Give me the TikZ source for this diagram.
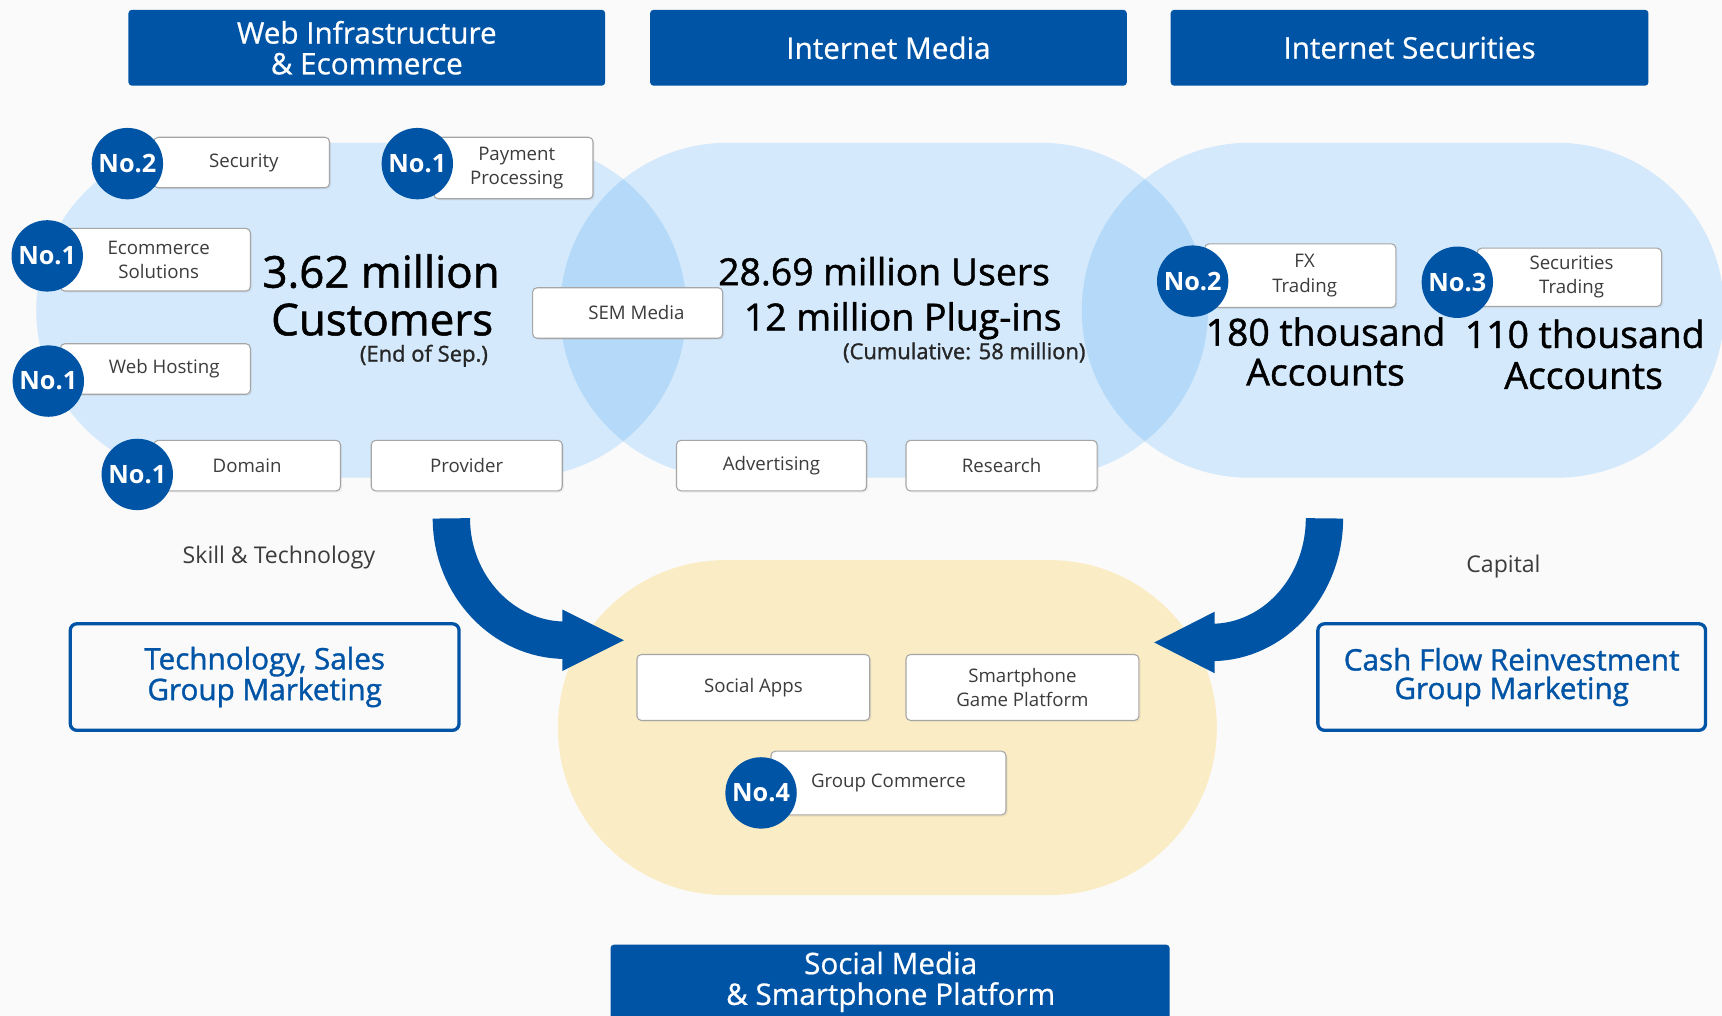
\documentclass[tikz,border=0pt]{standalone}
\usepackage{fontspec}
\setmainfont{Open Sans}
\newfontfamily\semif[FakeBold=1.2]{Open Sans}
\newfontfamily\medf[FakeBold=0.7]{Open Sans}
\usetikzlibrary{shadows}
\definecolor{dblue}{RGB}{0,84,166}
\definecolor{lblue}{RGB}{212,233,251}
\definecolor{mblue}{RGB}{181,218,249}
\definecolor{lyel}{RGB}{250,237,197}
\definecolor{bgc}{RGB}{250,250,250}
\definecolor{txt}{RGB}{60,60,60}
\tikzset{
  hdr/.style={fill=dblue, rounded corners=3pt, text=white, align=center, inner sep=0pt,
    font=\medf\fontsize{27}{28}\selectfont},
  wbox/.style={draw=black!35, fill=white, rounded corners=4pt, line width=1pt, align=center,
    text=txt, inner sep=0pt, font=\fontsize{17}{22}\selectfont,
    drop shadow={opacity=0.12, shadow xshift=1.5pt, shadow yshift=-1.5pt}},
  badge/.style={circle, fill=dblue, minimum size=65pt, inner sep=0pt, text=white,
    font=\bfseries\fontsize{23}{24}\selectfont},
  obox/.style={draw=dblue, line width=3pt, rounded corners=6pt, align=center, text=dblue,
    inner sep=0pt, font=\semif\fontsize{27}{26}\selectfont},
  bigtxt/.style={text=black, inner sep=0pt, font=\semif\fontsize{34}{36}\selectfont},
  subtxt/.style={text=black!85, inner sep=0pt, font=\semif\fontsize{20}{22}\selectfont},
  lbl/.style={text=txt, inner sep=0pt, font=\fontsize{21}{24}\selectfont},
  blob/.style={rounded corners=152.5pt},
  bigarrow/.style={dblue, line width=34pt},
}
\begin{document}
\begin{tikzpicture}[x=1pt,y=-1pt]
\useasboundingbox (0,0) rectangle (1568,925);
\clip (0,0) rectangle (1568,925);
\fill[bgc] (0,0) rectangle (1568,925);

% blobs
\fill[lblue, blob] (33,130) rectangle (625,435);
\fill[lblue, blob] (510,130) rectangle (1100,435);
\fill[lblue, blob] (985,130) rectangle (1570,435);
\begin{scope}
  \clip[blob] (33,130) rectangle (625,435);
  \fill[mblue, blob] (510,130) rectangle (1100,435);
\end{scope}
\begin{scope}
  \clip[blob] (510,130) rectangle (1100,435);
  \fill[mblue, blob] (985,130) rectangle (1570,435);
\end{scope}
\fill[lyel, blob] (508,510) rectangle (1108,815);

% headers
\node[hdr, minimum width=434pt, minimum height=69pt] (h1) at (334,43.5) {Web Infrastructure\\\& Ecommerce};
\node[hdr, minimum width=434pt, minimum height=69pt] (h2) at (809,43.5) {Internet Media};
\node[hdr, minimum width=435pt, minimum height=69pt] (h3) at (1283.5,43.5) {Internet Securities};
\node[hdr, minimum width=509pt, minimum height=80pt, anchor=north] (h4) at (810.5,860) {};
\node[text=white, align=center, inner sep=0pt, font=\medf\fontsize{27}{28}\selectfont] (h4t) at (811,894) {Social Media\\\& Smartphone Platform};

% big texts
\node[bigtxt, font=\semif\fontsize{40}{44}\selectfont] (c1) at (347,247) {3.62 million};
\node[bigtxt, font=\semif\fontsize{40}{44}\selectfont] (c2) at (348,291) {Customers};
\node[subtxt] (c3) at (386,324) {(End of Sep.)};
\node[bigtxt] (m1) at (805,247) {28.69 million Users};
\node[bigtxt] (m2) at (822,292) {12 million Plug-ins};
\node[subtxt] (m3) at (878,321) {(Cumulative: 58 million)};
\node[bigtxt] (s1) at (1207,302) {180 thousand};
\node[bigtxt] (s2) at (1207,339) {Accounts};
\node[bigtxt] (s3) at (1443,304) {110 thousand};
\node[bigtxt] (s4) at (1442,342) {Accounts};

% white boxes
\node[wbox, minimum width=160pt, minimum height=46pt] (sec) at (220,148) {\hspace*{4pt}Security};
\node[wbox, minimum width=145pt, minimum height=56pt] (pay) at (467.5,153) {\hspace*{6pt}Payment\\\hspace*{6pt}Processing};
\node[wbox, minimum width=173pt, minimum height=57pt] (eco) at (141.5,236.5) {\hspace*{6pt}Ecommerce\\\hspace*{6pt}Solutions};
\node[wbox, minimum width=173pt, minimum height=46pt] (web) at (141.5,336) {\hspace*{16pt}Web Hosting};
\node[wbox, minimum width=170pt, minimum height=46pt] (dom) at (225,424) {Domain};
\node[wbox, minimum width=174pt, minimum height=46pt] (pro) at (425,424) {Provider};
\node[wbox, minimum width=173pt, minimum height=46pt] (sem) at (571.5,285) {\hspace*{16pt}SEM Media};
\node[wbox, minimum width=173pt, minimum height=46pt] (adv) at (702.5,424) {Advertising};
\node[wbox, minimum width=174pt, minimum height=46pt] (res) at (912,424) {Research};
\node[wbox, minimum width=174pt, minimum height=58pt] (fx) at (1184,251) {\hspace*{8pt}FX\\\hspace*{8pt}Trading};
\node[wbox, minimum width=168pt, minimum height=53pt] (str) at (1429,252.5) {\hspace*{4pt}Securities\\\hspace*{4pt}Trading};
\node[wbox, minimum width=212pt, minimum height=60pt] (soc) at (686,626) {Social Apps};
\node[wbox, minimum width=212pt, minimum height=60pt] (gam) at (931,626) {Smartphone\\Game Platform};
\node[wbox, minimum width=214pt, minimum height=58pt] (grp) at (809,713) {Group Commerce};

% badges
\node[badge] (b1) at (116,149) {No.2};
\node[badge] (b2) at (380,149) {No.1};
\node[badge] (b3) at (43,233) {No.1};
\node[badge] (b4) at (44,347) {No.1};
\node[badge] (b5) at (125,432) {No.1};
\node[badge] (b6) at (1086,256) {No.2};
\node[badge] (b7) at (1327,257) {No.3};
\node[badge] (b8) at (693,722) {No.4};

% labels and outline boxes
\node[lbl] (skill) at (254,508) {Skill \& Technology};
\node[lbl] (cap) at (1369,516) {Capital};
\node[obox, minimum width=354pt, minimum height=97pt] (tech) at (241,616.5) {Technology, Sales\\Group Marketing};
\node[obox, minimum width=353pt, minimum height=97pt] (cash) at (1376.5,616.5) {Cash Flow Reinvestment\\Group Marketing};

% arrows
\coordinate (la0) at (411,472);
\coordinate (la1) at (515,583);
\coordinate (ra0) at (1206,472);
\coordinate (ra1) at (1103,585);
\draw[bigarrow] (la0) .. controls (411,533) and (458,583) .. (la1);
\fill[dblue] (512,555) -- (568,583) -- (512,611) -- cycle;
\draw[bigarrow] (ra0) .. controls (1206,534) and (1160,585) .. (ra1);
\fill[dblue] (1106,557) -- (1051,585) -- (1106,613) -- cycle;
\end{tikzpicture}
\end{document}
